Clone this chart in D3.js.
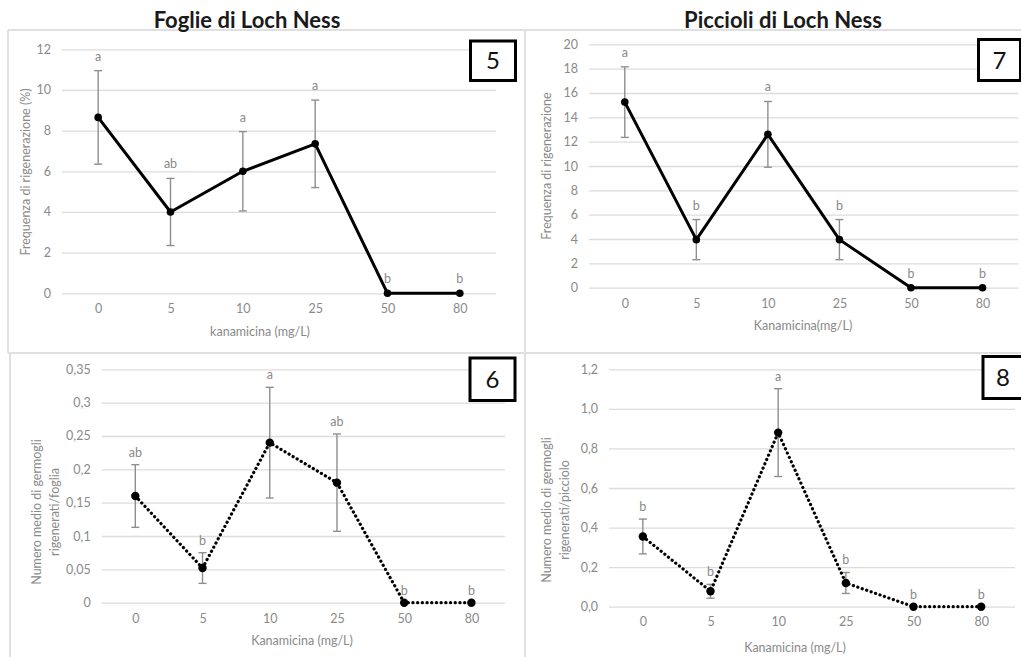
<!DOCTYPE html>
<html>
<head>
<meta charset="utf-8">
<script src="https://cdn.jsdelivr.net/npm/d3@7"></script>
<style>
  html, body { margin: 0; padding: 0; background: #fff; }
  svg { display: block; }
  text { font-family: Lato, "Open Sans", sans-serif; }
</style>
</head>
<body>
<svg id="chart" width="1021" height="657"></svg>
<script>
// ---------------- data ----------------
const categories = ["0", "5", "10", "25", "50", "80"];

// Panel 5: Foglie - frequenza di rigenerazione (%)
const mean5 = [8.65, 4.0, 6.0, 7.35, 0, 0];
const err5 = [2.3, 1.65, 1.95, 2.15, 0, 0];
const letters5 = ["a", "ab", "a", "a", "b", "b"];
const ticks5 = [0, 2, 4, 6, 8, 10, 12];
const tickLabels5 = ["0", "2", "4", "6", "8", "10", "12"];

// Panel 7: Piccioli - frequenza di rigenerazione
const mean7 = [15.25, 3.95, 12.6, 3.95, 0, 0];
const err7 = [2.9, 1.65, 2.7, 1.65, 0, 0];
const letters7 = ["a", "b", "a", "b", "b", "b"];
const ticks7 = [0, 2, 4, 6, 8, 10, 12, 14, 16, 18, 20];
const tickLabels7 = ["0", "2", "4", "6", "8", "10", "12", "14", "16", "18", "20"];

// Panel 6: Foglie - numero medio di germogli
const mean6 = [0.16, 0.052, 0.24, 0.18, 0, 0];
const err6 = [0.047, 0.023, 0.083, 0.073, 0, 0];
const letters6 = ["ab", "b", "a", "ab", "b", "b"];
const ticks6 = [0, 0.05, 0.1, 0.15, 0.2, 0.25, 0.3, 0.35];
const tickLabels6 = ["0", "0,05", "0,1", "0,15", "0,2", "0,25", "0,3", "0,35"];

// Panel 8: Piccioli - numero medio di germogli
const mean8 = [0.355, 0.078, 0.88, 0.12, 0, 0];
const err8 = [0.088, 0.035, 0.222, 0.053, 0, 0];
const letters8 = ["b", "b", "a", "b", "b", "b"];
const ticks8 = [0, 0.2, 0.4, 0.6, 0.8, 1.0, 1.2];
const tickLabels8 = ["0,0", "0,2", "0,4", "0,6", "0,8", "1,0", "1,2"];

// ---------------- drawing ----------------
const svg = d3.select("#chart");
const GRID = "#dcdcdc";
const TXT = "#8a8a8a";
const FS = 12.5;

// panel frames
const frame = svg.append("g").attr("fill", "none").attr("stroke", "#e0e0e0").attr("stroke-width", 2);
frame.append("line").attr("x1", 8).attr("x2", 1021).attr("y1", 30).attr("y2", 30);
frame.append("line").attr("x1", 8).attr("x2", 1021).attr("y1", 353).attr("y2", 353);
frame.append("line").attr("x1", 8).attr("x2", 8).attr("y1", 30).attr("y2", 353);
frame.append("line").attr("x1", 10).attr("x2", 10).attr("y1", 353).attr("y2", 657);
frame.append("line").attr("x1", 525).attr("x2", 525).attr("y1", 30).attr("y2", 657);

// titles
svg.append("text").attr("x", 247).attr("y", 28).attr("text-anchor", "middle")
  .attr("font-size", 22).attr("font-weight", "bold").attr("fill", "#1a1a1a").text("Foglie di Loch Ness");
svg.append("text").attr("x", 783).attr("y", 28).attr("text-anchor", "middle")
  .attr("font-size", 22).attr("font-weight", "bold").attr("fill", "#1a1a1a").text("Piccioli di Loch Ness");

function panel(cfg) {
  const g = svg.append("g");
  const x = d3.scalePoint().domain(categories).range([cfg.x0, cfg.x1]).padding(0.5);
  const y = d3.scaleLinear().domain(cfg.domain).range([cfg.yb, cfg.yt]);

  // y axis with gridlines
  const ya = g.append("g").attr("transform", `translate(${cfg.x0},0)`)
    .call(d3.axisLeft(y).tickValues(cfg.ticks).tickSize(-(cfg.x1 - cfg.x0)).tickPadding(11)
      .tickFormat((d, i) => cfg.tickLabels[i]));
  ya.select(".domain").remove();
  ya.selectAll(".tick line").attr("stroke", GRID).attr("stroke-width", 1.3);
  ya.selectAll(".tick text").attr("fill", TXT).attr("font-size", FS).attr("font-family", "Lato, sans-serif");

  // x axis
  const xa = g.append("g").attr("transform", `translate(0,${cfg.yb})`)
    .call(d3.axisBottom(x).tickSize(0).tickPadding(cfg.xPad));
  xa.select(".domain").remove();
  xa.selectAll(".tick text").attr("fill", TXT).attr("font-size", FS).attr("font-family", "Lato, sans-serif");

  // error bars
  const eb = g.append("g").attr("stroke", "#8f8f8f").attr("stroke-width", 1.4);
  categories.forEach((c, i) => {
    if (cfg.err[i] <= 0) return;
    const cx = x(c), lo = y(cfg.mean[i] - cfg.err[i]), hi = y(cfg.mean[i] + cfg.err[i]);
    eb.append("line").attr("x1", cx).attr("x2", cx).attr("y1", lo).attr("y2", hi);
    eb.append("line").attr("x1", cx - 4).attr("x2", cx + 4).attr("y1", lo).attr("y2", lo);
    eb.append("line").attr("x1", cx - 4).attr("x2", cx + 4).attr("y1", hi).attr("y2", hi);
  });

  // line
  const line = d3.line().x((d, i) => x(categories[i])).y(d => y(d));
  const path = g.append("path").datum(cfg.mean).attr("d", line).attr("fill", "none")
    .attr("stroke", "#000").attr("stroke-linejoin", "round");
  if (cfg.dotted) {
    path.attr("stroke-width", 3.2).attr("stroke-dasharray", "0.1 4.6").attr("stroke-linecap", "round");
  } else {
    path.attr("stroke-width", 3);
  }

  // markers
  g.append("g").selectAll("circle").data(cfg.mean).join("circle")
    .attr("cx", (d, i) => x(categories[i])).attr("cy", d => y(d)).attr("r", cfg.r).attr("fill", "#000");

  // significance letters
  g.append("g").selectAll("text").data(cfg.letters).join("text")
    .attr("x", (d, i) => x(categories[i]))
    .attr("y", (d, i) => y(cfg.mean[i] + cfg.err[i]) - cfg.letterGap)
    .attr("text-anchor", "middle").attr("font-size", FS).attr("fill", TXT).text(d => d);

  // axis titles
  g.append("text").attr("x", cfg.xtX).attr("y", cfg.xtY).attr("text-anchor", "middle")
    .attr("font-size", FS).attr("fill", TXT).text(cfg.xTitle);
  cfg.yTitle.forEach((t, k) => {
    const tx = cfg.ytX + k * 18;
    g.append("text").attr("transform", `translate(${tx},${cfg.ytY}) rotate(-90)`)
      .attr("text-anchor", "middle").attr("font-size", FS).attr("fill", TXT).text(t);
  });

  // number box
  g.append("rect").attr("x", cfg.box[0]).attr("y", cfg.box[1]).attr("width", cfg.box[2]).attr("height", cfg.box[3])
    .attr("fill", "#fff").attr("stroke", "#000").attr("stroke-width", 3);
  g.append("text").attr("x", cfg.box[0] + cfg.box[2] / 2).attr("y", cfg.box[1] + cfg.box[3] / 2 + 8.5)
    .attr("text-anchor", "middle").attr("font-size", 24).attr("fill", "#111").text(cfg.label);
}

panel({
  x0: 62, x1: 496, yb: 293.3, yt: 49.3, domain: [0, 12], ticks: ticks5, tickLabels: tickLabels5,
  mean: mean5, err: err5, letters: letters5, dotted: false, r: 3.8, letterGap: 10, xPad: 11,
  xTitle: "kanamicina (mg/L)", xtX: 260, xtY: 336, yTitle: ["Frequenza di rigenerazione (%)"], ytX: 30, ytY: 172,
  box: [470.5, 41, 45, 39.5], label: "5"
});
panel({
  x0: 589, x1: 1018.3, yb: 287.7, yt: 44.3, domain: [0, 20], ticks: ticks7, tickLabels: tickLabels7,
  mean: mean7, err: err7, letters: letters7, dotted: false, r: 3.8, letterGap: 10, xPad: 11,
  xTitle: "Kanamicina(mg/L)", xtX: 803, xtY: 330, yTitle: ["Frequenza di rigenerazione"], ytX: 551, ytY: 166,
  box: [978.5, 39.5, 42, 41], label: "7"
});
panel({
  x0: 101.7, x1: 505, yb: 602.7, yt: 369.3, domain: [0, 0.35], ticks: ticks6, tickLabels: tickLabels6,
  mean: mean6, err: err6, letters: letters6, dotted: true, r: 4.2, letterGap: 8, xPad: 11,
  xTitle: "Kanamicina (mg/L)", xtX: 302, xtY: 645, yTitle: ["Numero medio di germogli", "rigenerati/foglia"], ytX: 41, ytY: 512,
  box: [470, 358, 45, 42.5], label: "6"
});
panel({
  x0: 609, x1: 1015, yb: 606.7, yt: 369.3, domain: [0, 1.2], ticks: ticks8, tickLabels: tickLabels8,
  mean: mean8, err: err8, letters: letters8, dotted: true, r: 4.2, letterGap: 8, xPad: 10,
  xTitle: "Kanamicina (mg/L)", xtX: 795, xtY: 652, yTitle: ["Numero medio di germogli", "rigenerati/picciolo"], ytX: 551, ytY: 510,
  box: [983, 356.5, 40, 42], label: "8"
});
</script>
</body>
</html>
